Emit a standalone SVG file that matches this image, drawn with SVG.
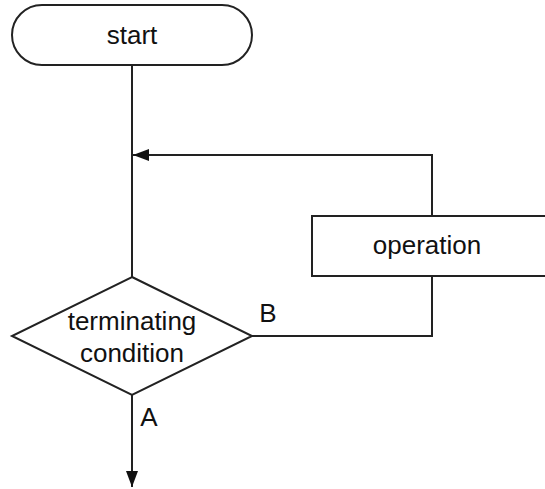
<svg xmlns="http://www.w3.org/2000/svg" width="545" height="489" viewBox="0 0 545 489">
  <style>
    .shape { fill: #ffffff; stroke: #222222; stroke-width: 2; }
    .edge { fill: none; stroke: #222222; stroke-width: 2; }
    .label { font-family: "Liberation Sans", Arial, sans-serif; font-size: 26px; fill: #111111; text-anchor: middle; }
  </style>
  <defs>
    <marker id="arrow" viewBox="0 0 16 12" refX="16" refY="6" markerWidth="16" markerHeight="12" markerUnits="userSpaceOnUse" orient="auto">
      <path d="M0,0 L16,6 L0,12 Z" fill="#111111"/>
    </marker>
  </defs>
  <rect width="545" height="489" fill="#ffffff"/>

  <g id="connectors">
    <path class="edge" d="M132,65 V277"/>
    <path class="edge" d="M432,215 V155 H133" marker-end="url(#arrow)"/>
    <path class="edge" d="M252,336 H432 V275"/>
    <path class="edge" d="M132,395 V487" marker-end="url(#arrow)"/>
    <text class="label" x="268" y="322">B</text>
    <text class="label" x="149" y="426">A</text>
  </g>

  <g id="start">
    <rect class="shape" x="12" y="5" width="240" height="60" rx="30" ry="30"/>
    <text class="label" x="132" y="44">start</text>
  </g>

  <g id="operation">
    <rect class="shape" x="312" y="216" width="240" height="60"/>
    <text class="label" x="427" y="254">operation</text>
  </g>

  <g id="condition">
    <polygon class="shape" points="132,277 252,336 132,395 12,336"/>
    <text class="label" x="132" y="330">terminating</text>
    <text class="label" x="132" y="362">condition</text>
  </g>
</svg>
